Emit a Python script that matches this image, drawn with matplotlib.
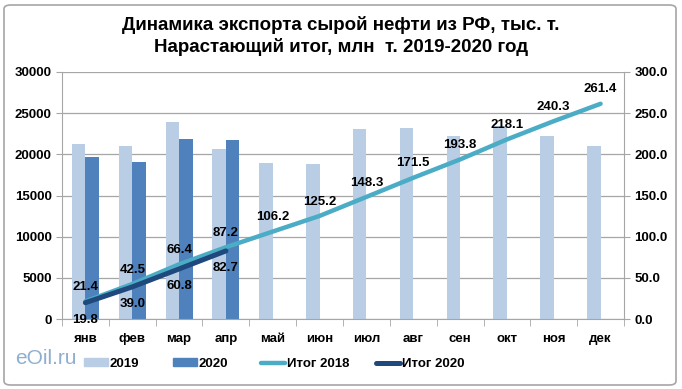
# Динамика экспорта сырой нефти из РФ: бары по месяцам + накопленный итог
import numpy as np
import matplotlib.pyplot as plt
from matplotlib.patches import Patch, FancyBboxPatch
from matplotlib.lines import Line2D

plt.rcParams["font.family"] = ["Liberation Sans", "DejaVu Sans"]

months = ["янв", "фев", "мар", "апр", "май", "июн",
          "июл", "авг", "сен", "окт", "ноя", "дек"]
exp_2019 = [21200, 21000, 23900, 20650, 18950, 18800,
            23050, 23200, 22200, 23400, 22200, 21000]
exp_2020 = [19700, 19100, 21900, 21750]
total_2018 = [21.4, 42.5, 66.4, 87.2, 106.2, 125.2,
              148.3, 171.5, 193.8, 218.1, 240.3, 261.4]
total_2020 = [19.8, 39.0, 60.8, 82.7]

c2019 = "#B9CDE5"
c2020 = "#4F81BD"
c_tot18 = "#4BACC6"
c_tot20 = "#1F497D"

fig = plt.figure(figsize=(6.82, 3.89), dpi=100)
ax = fig.add_axes([62 / 682, 1 - 319 / 389, (624 - 62) / 682, (319 - 72) / 389])

x = np.arange(len(months))
w = 0.29
ax.bar(x - w / 2, exp_2019, width=w, color=c2019, zorder=2)
ax.bar(x[:len(exp_2020)] + w / 2, exp_2020, width=w, color=c2020, zorder=2)

ax.set_xlim(-0.5, 11.5)
ax.set_ylim(0, 30000)
ax.set_yticks(np.arange(0, 30001, 5000))
ax.grid(axis="y", color="#A6A6A6", linewidth=0.9, zorder=0)
ax.set_xticks(x)
ax.set_xticklabels(months)
ax.set_xticks(np.arange(-0.5, 12, 1), minor=True)
ax.tick_params(axis="x", which="major", length=0, pad=10)
ax.tick_params(axis="x", which="minor", length=5, color="#A6A6A6")
ax.tick_params(axis="y", length=4, color="#A6A6A6")
for lab in ax.get_xticklabels() + ax.get_yticklabels():
    lab.set_fontsize(9.5)
    lab.set_fontweight("bold")
for s in ["top", "right"]:
    ax.spines[s].set_visible(False)
for s in ["left", "bottom"]:
    ax.spines[s].set_color("#A6A6A6")

ax2 = ax.twinx()
ax2.set_ylim(0, 300)
ax2.set_yticks(np.arange(0, 301, 50))
ax2.set_yticklabels([f"{v:.1f}" for v in np.arange(0, 301, 50)])
ax2.tick_params(axis="y", length=4, color="#A6A6A6")
for lab in ax2.get_yticklabels():
    lab.set_fontsize(9.5)
    lab.set_fontweight("bold")
for s in ["top", "left", "bottom"]:
    ax2.spines[s].set_visible(False)
ax2.spines["right"].set_color("#A6A6A6")

ax2.plot(x, total_2018, color=c_tot18, linewidth=3.2, solid_capstyle="round", zorder=3)
ax2.plot(x[:len(total_2020)], total_2020, color=c_tot20, linewidth=3.6,
         solid_capstyle="round", zorder=4)

for xi, v in zip(x, total_2018):
    ax2.annotate(f"{v:.1f}", (xi, v), xytext=(0, 6), textcoords="offset points",
                 ha="center", va="bottom", fontsize=9.5, fontweight="bold", zorder=5)
for xi, v in zip(x, total_2020):
    ax2.annotate(f"{v:.1f}", (xi, v), xytext=(0, -8), textcoords="offset points",
                 ha="center", va="top", fontsize=9.5, fontweight="bold", zorder=5)

fig.text(0.5, 1 - 25 / 389, "Динамика экспорта сырой нефти из РФ, тыс. т.",
         ha="center", va="center", fontsize=13.5, fontweight="bold")
fig.text(0.5, 1 - 47 / 389, "Нарастающий итог, млн  т. 2019-2020 год",
         ha="center", va="center", fontsize=13.5, fontweight="bold")

# легенда: каждый элемент на своём месте, как в Excel
handles = [Patch(color=c2019), Patch(color=c2020),
           Line2D([], [], color=c_tot18, linewidth=3.2, solid_capstyle="round"),
           Line2D([], [], color=c_tot20, linewidth=3.6, solid_capstyle="round")]
names = ["2019", "2020", "Итог 2018", "Итог 2020"]
leg_x = [84, 173, 261, 376]
for h, n, lx in zip(handles, names, leg_x):
    lg = fig.legend([h], [n], loc="center left",
                    bbox_to_anchor=(lx / 682, 1 - 364 / 389), frameon=False,
                    handlelength=1.8, handleheight=0.55, handletextpad=0.15,
                    borderpad=0, borderaxespad=0,
                    prop={"size": 9.5, "weight": "bold"})

fig.text(15 / 682, 1 - 358 / 389, "eOil.ru", ha="left", va="center",
         fontsize=15, color="#8FAFD0")

fig.patches.append(FancyBboxPatch((4 / 682, 4 / 389), 672 / 682, 380 / 389,
                                  boxstyle="round,pad=0,rounding_size=0.01",
                                  transform=fig.transFigure, fill=False,
                                  edgecolor="#A6A6A6", linewidth=1.2))

fig.savefig("out.png", dpi=100)
